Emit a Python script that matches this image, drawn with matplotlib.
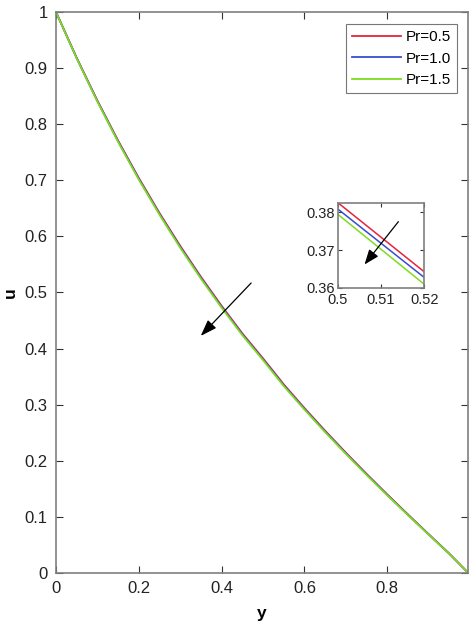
import numpy as np
import matplotlib.pyplot as plt

plt.rcParams['font.family'] = ['Liberation Sans', 'DejaVu Sans']

# velocity profiles
y = [0, 0.05, 0.1, 0.15, 0.2, 0.25, 0.3, 0.35, 0.4, 0.45, 0.5, 0.52,
     0.55, 0.6, 0.65, 0.7, 0.75, 0.8, 0.85, 0.9, 0.95, 0.996]
u_pr05 = [1.0, 0.9182, 0.8420, 0.7707, 0.7041, 0.6416, 0.5831, 0.5280, 0.4762, 0.4272, 0.3826,
          0.3642, 0.3363, 0.2941, 0.2536, 0.2146, 0.1768, 0.1402, 0.1044, 0.0693, 0.0345, 0.0]
u_pr10 = [1.0, 0.9177, 0.8411, 0.7695, 0.7027, 0.6401, 0.5814, 0.5263, 0.4745, 0.4256, 0.3809,
          0.3627, 0.3348, 0.2927, 0.2523, 0.2135, 0.1758, 0.1394, 0.1038, 0.0689, 0.0343, 0.0]
u_pr15 = [1.0, 0.9172, 0.8402, 0.7683, 0.7013, 0.6386, 0.5797, 0.5246, 0.4728, 0.4240, 0.3795,
          0.3609, 0.3333, 0.2913, 0.2510, 0.2124, 0.1748, 0.1386, 0.1032, 0.0685, 0.0341, 0.0]
labels = ['Pr=0.5', 'Pr=1.0', 'Pr=1.5']
colors = ['#e6233c', '#3a4ccf', '#7ddc1f']

fig = plt.figure(figsize=(4.77, 6.3), dpi=100)
ax = fig.add_axes([0.1174, 0.0905, 0.8644, 0.8905])

for uu, lab, c in zip([u_pr05, u_pr10, u_pr15], labels, colors):
    ax.plot(y, uu, color=c, lw=1.3, label=lab)

ax.set_xlim(0, y[-1])
ax.set_ylim(0, 1)
ax.set_xticks([0, 0.2, 0.4, 0.6, 0.8])
ax.set_xticklabels(['0', '0.2', '0.4', '0.6', '0.8'])
ax.set_yticks(np.arange(0, 1.01, 0.1))
ax.set_yticklabels(['0', '0.1', '0.2', '0.3', '0.4', '0.5', '0.6', '0.7', '0.8', '0.9', '1'])
ax.tick_params(direction='in', top=True, right=True, length=5, width=0.8,
               labelsize=12, color='#333333', labelcolor='#222222', pad=6)
for s in ax.spines.values():
    s.set_color('#7f7f7f')
    s.set_linewidth(1.2)
ax.set_xlabel('y', fontsize=12.5, fontweight='bold', labelpad=7)
ax.set_ylabel('u', fontsize=12.5, fontweight='bold', labelpad=5)

leg = ax.legend(loc='upper right', bbox_to_anchor=(0.972, 0.979), fontsize=11,
                fancybox=False, edgecolor='#555555', handlelength=3.2,
                handletextpad=0.3, borderpad=0.4, labelspacing=0.5, borderaxespad=0)
leg.get_frame().set_linewidth(0.8)

ax.annotate('', xy=(0.345, 0.419), xytext=(0.476, 0.5205),
            arrowprops=dict(arrowstyle='-|>,head_length=1.0,head_width=0.35',
                            color='black', lw=0.9))

# inset zoom
ins = fig.add_axes([0.708, 0.5433, 0.1816, 0.134])
for uu, c in zip([u_pr05, u_pr10, u_pr15], colors):
    ins.plot(y, uu, color=c, lw=1.1)
ins.set_xlim(0.5, 0.52)
ins.set_ylim(0.36, 0.3824)
ins.set_xticks([0.5, 0.51, 0.52])
ins.set_xticklabels(['0.5', '0.51', '0.52'])
ins.set_yticks([0.36, 0.37, 0.38])
ins.set_yticklabels(['0.36', '0.37', '0.38'])
ins.tick_params(direction='in', top=True, right=True, length=3, width=0.8,
                labelsize=10.5, color='#333333', labelcolor='#222222', pad=2)
ins.tick_params(axis='x', pad=4)
for s in ins.spines.values():
    s.set_color('#7f7f7f')
    s.set_linewidth(1.2)
ins.annotate('', xy=(0.5058, 0.3656), xytext=(0.5144, 0.3781),
             arrowprops=dict(arrowstyle='-|>,head_length=0.9,head_width=0.35',
                             color='black', lw=0.9))

fig.savefig('out.png', dpi=100)
